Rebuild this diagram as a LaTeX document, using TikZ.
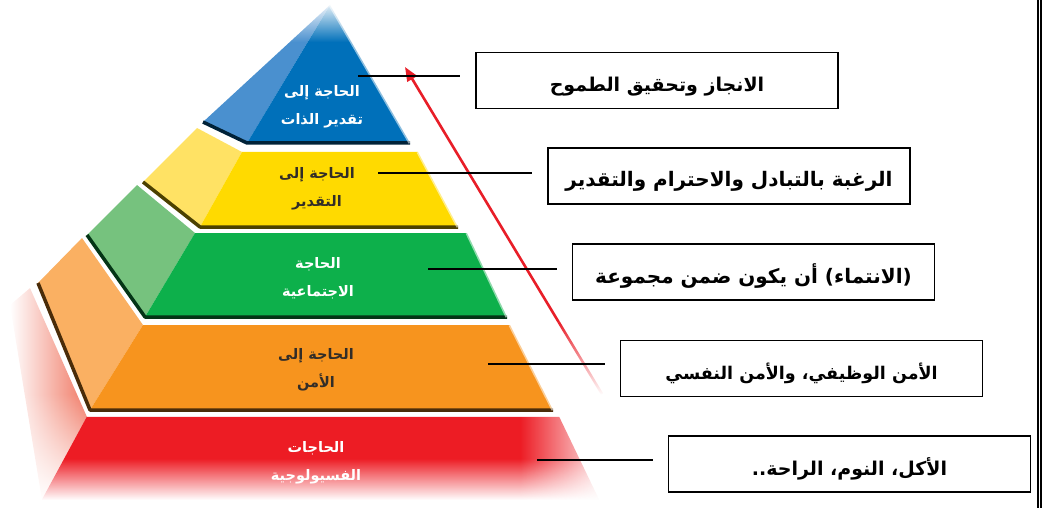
\documentclass[tikz,border=0pt]{standalone}
\usepackage{fontspec}
\usetikzlibrary{fadings,arrows.meta,calc}
\newfontfamily\arfont[Script=Arabic]{DejaVu Sans}
\TeXXeTstate=1
\newcommand{\AR}[1]{\beginR#1\endR}
\newcommand{\BX}[1]{\raisebox{-11pt}[0pt][0pt]{\AR{#1}}}
\definecolor{blueF}{RGB}{0,112,186}
\definecolor{blueS}{RGB}{74,144,207}
\definecolor{yelF}{RGB}{255,218,0}
\definecolor{yelS}{RGB}{255,226,100}
\definecolor{grnF}{RGB}{13,176,75}
\definecolor{grnS}{RGB}{118,194,126}
\definecolor{orgF}{RGB}{247,148,30}
\definecolor{orgS}{RGB}{250,176,98}
\definecolor{redF}{RGB}{237,28,36}
\definecolor{redS}{RGB}{240,120,100}
\definecolor{arrowred}{RGB}{232,30,40}
\definecolor{darktxt}{RGB}{50,45,40}
\tikzfading[name=fadedown, top color=transparent!0, bottom color=transparent!100, middle color=transparent!0]
\tikzfading[name=fadetop, top color=transparent!0, bottom color=transparent!100]
\tikzfading[name=fadeinR, left color=transparent!100, right color=transparent!0]
\begin{document}
\begin{tikzpicture}[x=1pt,y=-1pt,
  labelbox/.style={draw, line width=1.8pt, fill=white, minimum width=362pt, minimum height=56pt, inner sep=0pt,
    font=\arfont\bfseries\fontsize{19}{22}\selectfont},
  tierlabel/.style={align=center, inner sep=0pt, font=\arfont\bfseries\fontsize{14.5}{28}\selectfont},
  conn/.style={line width=1.3pt, shorten >=15pt},
  edgeline/.style={line width=3.5pt, line join=round},
  softedge/.style={white, line width=3pt, opacity=0.55}]
\useasboundingbox (0,0) rectangle (1045,508);
% ---- red tier (physiological)
\shade[left color=white, right color=redS, path fading=fadedown] (30,288) -- (87,417) -- (42,500) -- (10,305) -- cycle;
\fill[redF, path fading=fadedown] (87,417) -- (560,417) -- (600,500) -- (42,500) -- cycle;
\fill[white, path fading=fadeinR] (520,410) rectangle (612,505);
% ---- orange tier
\fill[orgS] (82,238) -- (143,325) -- (90,410) -- (38,283) -- cycle;
\fill[orgF] (143,325) -- (510,325) -- (553,410) -- (90,410) -- cycle;
\draw[edgeline, orgF!30!black] (38,283) -- (90,410) -- (553,410);
\draw[softedge] (510,325) -- (553,410);
% ---- green tier
\fill[grnS] (137,185) -- (195,233) -- (145,317) -- (87,235) -- cycle;
\fill[grnF] (195,233) -- (467,233) -- (507,317) -- (145,317) -- cycle;
\draw[edgeline, grnF!30!black] (87,235) -- (145,317) -- (507,317);
\draw[softedge] (467,233) -- (507,317);
% ---- yellow tier
\fill[yelS] (197,128) -- (242,152) -- (200,227) -- (143,182) -- cycle;
\fill[yelF] (242,152) -- (418,152) -- (458,227) -- (200,227) -- cycle;
\draw[edgeline, yelF!30!black] (143,182) -- (200,227) -- (458,227);
\draw[softedge] (418,152) -- (458,227);
% ---- blue tier
\fill[blueS] (330,5) -- (247,143) -- (203,122) -- cycle;
\fill[blueF] (330,5) -- (410,143) -- (247,143) -- cycle;
\draw[edgeline, blueF!30!black] (203,122) -- (247,143) -- (410,143);
\draw[softedge] (330,5) -- (410,143);
\fill[white, path fading=fadetop] (280,0) rectangle (380,42);
% ---- tier labels
\node[tierlabel, text=white]   (t1) at (322,106.5) {\AR{الحاجة إلى}\\\AR{تقدير الذات}};
\node[tierlabel, text=darktxt] (t2) at (317,188.5) {\AR{الحاجة إلى}\\\AR{التقدير}};
\node[tierlabel, text=white]   (t3) at (318,278.5) {\AR{الحاجة}\\\AR{الاجتماعية}};
\node[tierlabel, text=darktxt] (t4) at (316,369.5) {\AR{الحاجة إلى}\\\AR{الأمن}};
\node[tierlabel, text=white]   (t5) at (316,463) {\AR{الحاجات}\\\AR{الفسيولوجية}};
% ---- red arrow
\coordinate (atip) at (405,67);
\coordinate (atail) at (602,394);
\coordinate (amid) at ($(atip)!0.78!(atail)$);
\draw[arrowred, line width=2.6pt, -{Triangle[length=14pt,width=11pt]}] (amid) -- (atip);
\draw[arrowred, line width=2.6pt, path fading=fadetop] (amid) -- (atail);
% ---- boxes
\node[labelbox] (b1) at (657,80.5) {\BX{الانجاز وتحقيق الطموح}};
\node[labelbox, font=\arfont\bfseries\fontsize{20}{22}\selectfont] (b2) at (729,176) {\BX{الرغبة بالتبادل والاحترام والتقدير}};
\node[labelbox, font=\arfont\bfseries\fontsize{20}{22}\selectfont] (b3) at (753.5,272) {\BX{(الانتماء) أن يكون ضمن مجموعة}};
\node[labelbox, font=\arfont\bfseries\fontsize{17.5}{22}\selectfont] (b4) at (801.5,368.5) {\BX{الأمن الوظيفي، والأمن النفسي}};
\node[labelbox] (b5) at (849.5,464) {\BX{الأكل، النوم، الراحة..}};
% ---- connectors
\coordinate (p1) at (358,76);
\coordinate (p2) at (378,173);
\coordinate (p3) at (428,269);
\coordinate (p4) at (488,364);
\coordinate (p5) at (537,460);
\draw[conn] (p1) -- (p1 -| b1.west);
\draw[conn] (p2) -- (p2 -| b2.west);
\draw[conn] (p3) -- (p3 -| b3.west);
\draw[conn] (p4) -- (p4 -| b4.west);
\draw[conn] (p5) -- (p5 -| b5.west);
% ---- right double rule
\coordinate (r1t) at (1037.7,0);
\coordinate (r1b) at (1037.7,508);
\coordinate (r2t) at (1041.2,0);
\coordinate (r2b) at (1041.2,508);
\draw[line width=2pt] (r1t) -- (r1b);
\draw[line width=2pt] (r2t) -- (r2b);
\end{tikzpicture}
\end{document}
